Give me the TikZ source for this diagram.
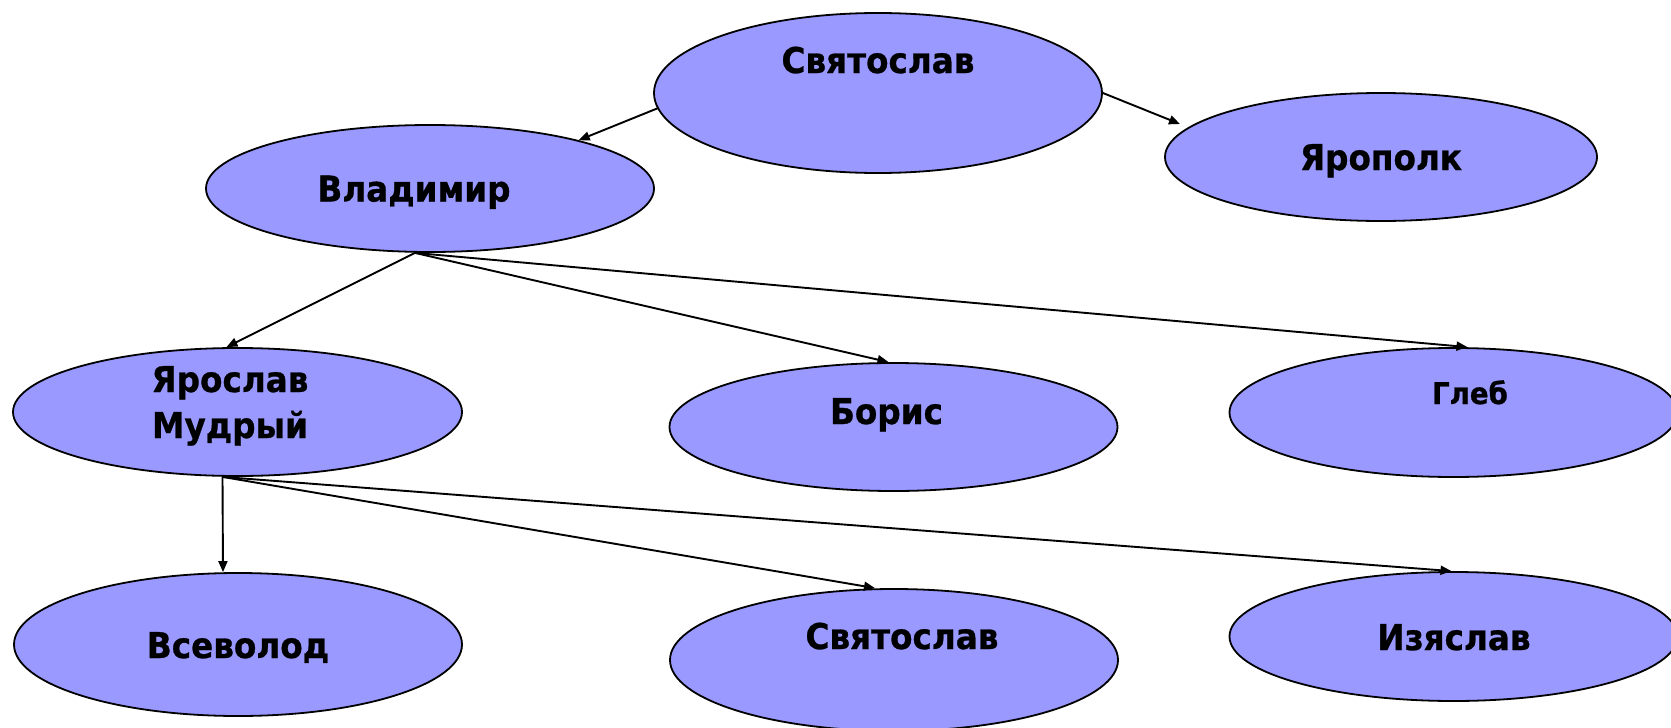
\documentclass[tikz,border=0pt]{standalone}
\usepackage{fontspec}
\setmainfont{DejaVu Sans}[FakeStretch=0.92,BoldFeatures={FakeBold=0.8}]
\usetikzlibrary{shapes.geometric,arrows.meta}
\definecolor{ovalfill}{RGB}{153,153,255}
\begin{document}
\begin{tikzpicture}[x=1pt,y=-1pt,
  oval/.style={ellipse,draw=black,line width=1.8pt,fill=ovalfill,inner sep=0pt},
  lbl/.style={anchor=base,inner sep=0pt,font=\bfseries\fontsize{35.5}{46}\selectfont},
  lblsmall/.style={anchor=base,inner sep=0pt,font=\bfseries\fontsize{30}{36}\selectfont},
  link/.style={line width=1.9pt,-{Triangle[length=11pt,width=9pt]}}]
\useasboundingbox (0,0) rectangle (1671,728);
% ovals
\node[oval,minimum width=448pt,minimum height=160pt] (sv) at (878,93) {};
\node[oval,minimum width=448pt,minimum height=127pt] (vl) at (430,188.5) {};
\node[oval,minimum width=432pt,minimum height=128pt] (yp) at (1381,157) {};
\node[oval,minimum width=449pt,minimum height=128pt] (ym) at (237.5,412) {};
\node[oval,minimum width=448pt,minimum height=128pt] (bo) at (893.5,427) {};
\node[oval,minimum width=448pt,minimum height=129pt] (gl) at (1453.5,412.5) {};
\node[oval,minimum width=448pt,minimum height=143pt] (vs) at (238,644.5) {};
\node[oval,minimum width=448pt,minimum height=142pt] (sv2) at (894,660) {};
\node[oval,minimum width=448pt,minimum height=129pt] (iz) at (1453.5,636.5) {};
% labels
\node[lbl] (tsv) at (878,73) {Святослав};
\node[lbl] (tvl) at (414,201.5) {Владимир};
\node[lbl] (typ) at (1381,170) {Ярополк};
\node[lbl,align=center] (tym) at (230,438) {Ярослав\\Мудрый};
\node[lbl] (tbo) at (886.5,424) {Борис};
\node[lblsmall] (tgl) at (1470,404) {Глеб};
\node[lbl] (tvs) at (238,658) {Всеволод};
\node[lbl] (tsv2) at (902,649) {Святослав};
\node[lbl] (tiz) at (1454,650) {Изяслав};
% connectors
\coordinate (vlout) at ([xshift=-15pt]vl.south);
\coordinate (ymout) at ([xshift=-15pt]ym.south);
\draw[link] (sv.184) -- (vl.18);
\draw[link] (sv.east) -- ([shift={(-201,-33)}]yp.center);
\draw[link] (vlout) -- ([xshift=-11pt]ym.north);
\draw[link] (vlout) -- ([xshift=-5pt]bo.north);
\draw[link] (vlout) -- ([xshift=14pt]gl.north);
\draw[link] (ymout) -- ([xshift=-15pt]vs.north);
\draw[link] (ymout) -- ([xshift=-19pt]sv2.north);
\draw[link] (ymout) -- ([xshift=-2pt]iz.north);
\end{tikzpicture}
\end{document}
